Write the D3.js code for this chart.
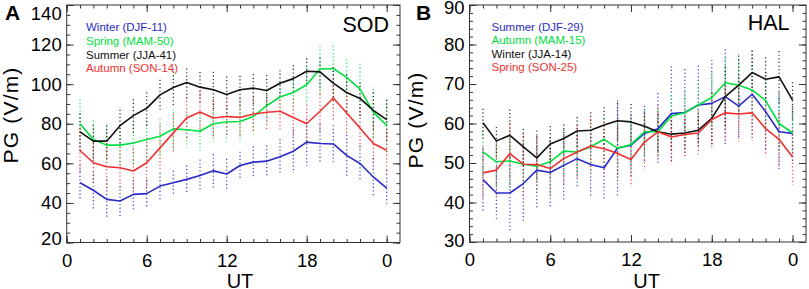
<!DOCTYPE html>
<html><head><meta charset="utf-8">
<script src="https://cdn.jsdelivr.net/npm/d3@7"></script>
<style>
body{margin:0;background:#fff;}
svg{display:block;}
text{font-family:"Liberation Sans",Arial,Helvetica,sans-serif;}
</style></head>
<body><svg id="c" width="809" height="289"></svg>
<script>
// ---------- DATA ----------
const hours = [1,2,3,4,5,6,7,8,9,10,11,12,13,14,15,16,17,18,19,20,21,22,23,24];
const xTickValues = [0,6,12,18,24];
const xTickLabels = ["0","6","12","18","0"];

// Panel A (SOD)
const sodLabels = ["Winter (DJF-11)","Spring (MAM-50)","Summer (JJA-41)","Autumn (SON-14)"];
const sodWinter = [50.2,46.4,41.8,41.0,44.3,44.7,48.5,50.2,51.9,53.9,56.2,54.6,58.9,60.6,61.1,63.3,66.1,70.7,70.0,69.8,64.0,59.9,53.1,47.5];
const sodSpring = [80.0,72.0,69.2,69.2,70.3,72.0,73.7,77.4,77.0,76.2,80.0,80.9,81.1,83.7,89.1,93.5,95.8,99.7,107.7,107.9,103.4,97.5,85.9,79.2];
const sodSummer = [75.9,71.2,71.2,79.0,84.1,87.8,94.6,98.3,100.8,98.5,97.2,94.8,97.2,98.0,96.8,100.5,102.8,106.5,106.2,100.5,95.8,92.8,86.8,82.1];
const sodAutumn = [66.5,60.3,58.3,57.8,56.1,60.3,67.8,75.4,82.9,85.9,82.9,83.7,83.2,84.9,85.8,86.3,83.2,80.0,86.3,93.0,85.4,77.9,70.0,66.6];
const sodWinterSd = [9,9.6,10,7.6,7.5,7,6.7,6,7,8,8.5,7.7,7,8,8,9,11,12,9.7,9.5,10.4,9,9.6,9];
const sodSpringSd = [13.8,11,11,10,11,11,10,10,9,10,9,10,10,9,9,9,9,10,13,13,10.6,14,13,14];
const sodSummerSd = [10,9,9,9,9.2,9,8.5,9,8,8.5,10,10,8,8,8.7,7.5,7.7,7.5,8,9,10,9,10,11];
const sodAutumnSd = [12,11,12,11,12,13,12,10,11,11,10,10,10,9,9,10,10,10,11,12,11,11,11,11];

// Panel B (HAL)
const halLabels = ["Summer (DJF-29)","Autumn (MAM-15)","Winter (JJA-14)","Spring (SON-25)"];
const halDJF = [45.8,42.4,42.4,44.8,48.2,47.6,49.4,51.1,49.6,48.8,53.8,54.5,57.5,58.7,62.5,62.8,64.7,65.1,66.8,64.4,67.4,63.0,57.9,57.5];
const halMAM = [52.8,50.3,50.5,49.7,49.2,50.3,53.0,52.8,54.1,56.0,53.7,54.7,57.9,57.9,61.9,62.7,64.7,66.6,70.3,69.7,68.5,65.8,60.0,57.6];
const halJJA = [60.2,55.6,57.0,54.1,51.3,54.8,56.2,58.1,58.3,59.6,60.7,60.4,59.3,57.9,57.3,57.6,58.3,61.3,66.8,69.7,72.9,71.2,71.8,65.9];
const halSON = [47.5,48.2,52.4,49.7,49.6,48.6,51.1,52.8,54.3,53.6,52.4,50.9,55.3,57.9,56.6,57.2,57.6,61.0,62.7,62.4,62.7,58.7,56.0,51.5];
const halDJFSd = [8,6.5,10,10,10,9,9,7,8,8,12,8,7,9,12,11,10,11,12,8,11,10,10,7];
const halMAMSd = [6,6,7,6,6,6,6,6,6,6,7,6,6,6,6,6,6,7,7,8,7,7,7,6];
const halJJASd = [4,4,7,5,6,5,4,4,5,5,5,5,4,5,4,4,4,7,8,8,6,6,7,5];
const halSONSd = [7,7,8,8,7,7,7,7,7,7,7,7,7,7,7,6,6,7,7,7,7,7,7,7];

const seriesColors = ["#2a2ac8","#00e040","#111111","#f03030"];

// ---------- DRAW ----------
const svg = d3.select("#c");

function panel(cfg){
  const g = svg.append("g");
  const x = d3.scaleLinear().domain([0,25]).range([cfg.x0, cfg.x1]);
  const y = d3.scaleLinear().domain(cfg.yDom).range([cfg.yB, cfg.yT]);
  const frame = "#333";

  // error bars
  cfg.series.forEach((s,si)=>{
    g.append("g").selectAll("line").data(hours).join("line")
      .attr("x1",(h)=>x(h)).attr("x2",(h)=>x(h))
      .attr("y1",(h,i)=>y(s.v[i]+s.sd[i])).attr("y2",(h,i)=>y(s.v[i]-s.sd[i]))
      .attr("stroke",seriesColors[si]).attr("stroke-width",1.3)
      .attr("stroke-dasharray","1.2,2.4").attr("stroke-dashoffset",si*0.9)
      .attr("opacity",0.85);
  });

  // lines
  const line = d3.line().x((d,i)=>x(hours[i])).y(d=>y(d));
  cfg.series.forEach((s,si)=>{
    g.append("path").datum(s.v).attr("d",line).attr("fill","none")
      .attr("stroke",seriesColors[si]).attr("stroke-width",1.6).attr("stroke-linejoin","round");
  });

  // frame
  g.append("rect").attr("x",cfg.x0).attr("y",cfg.yT).attr("width",cfg.x1-cfg.x0).attr("height",cfg.yB-cfg.yT)
    .attr("fill","none").attr("stroke",frame).attr("stroke-width",1);

  const styleAxis = sel => { sel.select(".domain").remove(); sel.selectAll("line").attr("stroke",frame); };
  // y axes
  const yMinor = d3.range(cfg.yDom[0], cfg.yDom[1]+0.001, cfg.yMinor);
  const yMajor = d3.range(cfg.yDom[0], cfg.yDom[1]+0.001, cfg.yMajor);
  g.append("g").attr("transform",`translate(${cfg.x0},0)`).call(d3.axisLeft(y).tickValues(yMinor).tickSize(-3.5).tickFormat("")).call(styleAxis);
  g.append("g").attr("transform",`translate(${cfg.x1},0)`).call(d3.axisRight(y).tickValues(yMinor).tickSize(-3.5).tickFormat("")).call(styleAxis);
  g.append("g").attr("transform",`translate(${cfg.x1},0)`).call(d3.axisRight(y).tickValues(yMajor).tickSize(-7).tickFormat("")).call(styleAxis);
  const ya = g.append("g").attr("transform",`translate(${cfg.x0},0)`)
    .call(d3.axisLeft(y).tickValues(yMajor).tickSize(-7).tickPadding(5).tickFormat(d3.format("d"))).call(styleAxis);
  ya.selectAll("text").attr("font-size",18.5).attr("fill","#000").attr("font-family","Liberation Sans, Arial, sans-serif")
    .attr("dy",(d,i)=> i===yMajor.length-1 ? (0.32+cfg.topShift/18.5)+"em" : (i===0 ? (0.32+cfg.botShift/18.5)+"em" : "0.32em"));

  // x axes
  g.append("g").attr("transform",`translate(0,${cfg.yB})`).call(d3.axisBottom(x).tickValues(hours.concat([0])).tickSize(-3.5).tickFormat("")).call(styleAxis);
  g.append("g").attr("transform",`translate(0,${cfg.yT})`).call(d3.axisTop(x).tickValues(hours.concat([0])).tickSize(-3.5).tickFormat("")).call(styleAxis);
  g.append("g").attr("transform",`translate(0,${cfg.yT})`).call(d3.axisTop(x).tickValues(xTickValues).tickSize(-7).tickFormat("")).call(styleAxis);
  const xa = g.append("g").attr("transform",`translate(0,${cfg.yB})`)
    .call(d3.axisBottom(x).tickValues(xTickValues).tickSize(-7).tickPadding(11).tickFormat((d,i)=>xTickLabels[i])).call(styleAxis);
  xa.selectAll("text").attr("font-size",18.5).attr("fill","#000").attr("font-family","Liberation Sans, Arial, sans-serif");

  // titles
  g.append("text").attr("x",cfg.utX).attr("y",288).attr("text-anchor","middle").attr("font-size",20).text("UT");
  g.append("text").attr("transform",`translate(${cfg.pgX},${cfg.pgY}) rotate(-90)`).attr("text-anchor","middle")
    .attr("font-size",21).attr("letter-spacing",1.2).text("PG (V/m)");
  g.append("text").attr("x",cfg.letX).attr("y",20).attr("font-size",21).attr("font-weight","bold").text(cfg.letter);
  g.append("text").attr("x",cfg.stX).attr("y",cfg.stY).attr("text-anchor","end").attr("font-size",21.5).text(cfg.station);

  // legend
  cfg.labels.forEach((t,i)=>{
    g.append("text").attr("x",cfg.legX).attr("y",cfg.legY[i]).attr("fill",seriesColors[i])
      .attr("font-family","DejaVu Sans, sans-serif").attr("font-size",11.5).text(t);
  });
}

panel({x0:66.7,x1:400,yT:5,yB:242.5,yDom:[20,140],yMajor:20,yMinor:5,topShift:8.5,botShift:-4,
  series:[{v:sodWinter,sd:sodWinterSd},{v:sodSpring,sd:sodSpringSd},{v:sodSummer,sd:sodSummerSd},{v:sodAutumn,sd:sodAutumnSd}],
  labels:sodLabels,legX:86,legY:[31,45,58.5,72],letter:"A",letX:5,station:"SOD",stX:389,stY:32.3,
  utX:240,pgX:18,pgY:115});
panel({x0:469.5,x1:806,yT:5,yB:242,yDom:[30,90],yMajor:10,yMinor:2,topShift:3,botShift:-1,
  series:[{v:halDJF,sd:halDJFSd},{v:halMAM,sd:halMAMSd},{v:halJJA,sd:halJJASd},{v:halSON,sd:halSONSd}],
  labels:halLabels,legX:491.5,legY:[30.5,44,57.5,71],letter:"B",letX:416,station:"HAL",stX:789.5,stY:30,
  utX:646.7,pgX:423,pgY:120});
</script></body></html>
